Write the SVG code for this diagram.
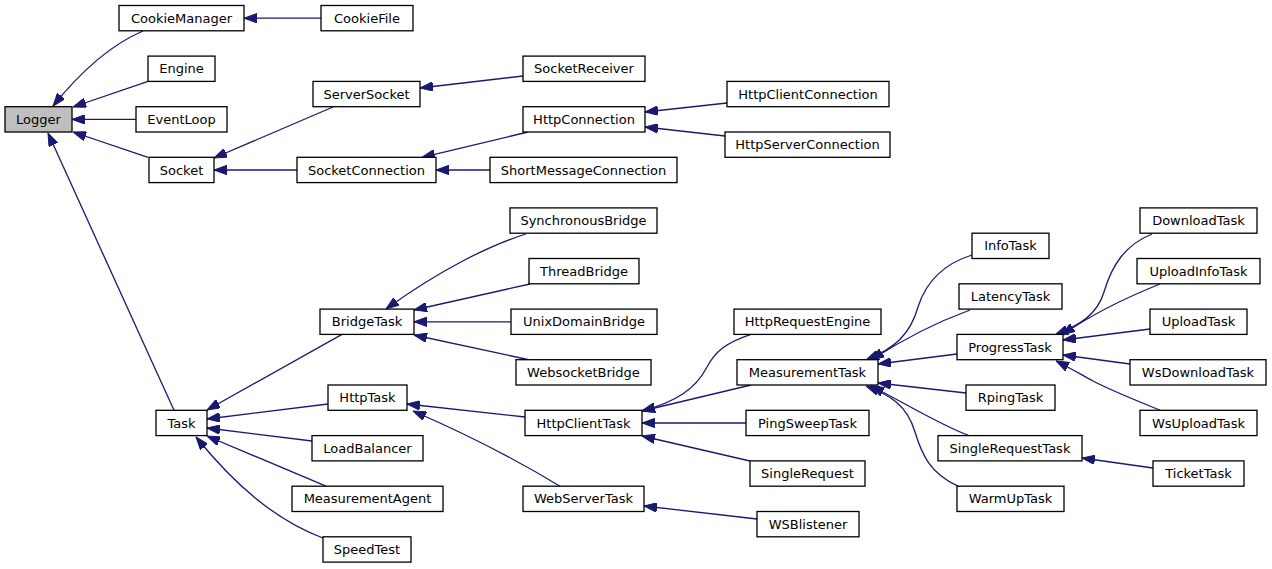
<svg xmlns="http://www.w3.org/2000/svg" width="1272" height="569" viewBox="0 0 1272 569">
<style>
.n rect{fill:#fff;stroke:#000;stroke-width:1.3}
.n.root rect{fill:#bfbfbf}
.n text{font-family:"DejaVu Sans",sans-serif;font-size:13px;fill:#000;text-anchor:middle}
#edges path{fill:none;stroke:#191970;stroke-width:1.3;marker-end:url(#ah)}
</style>
<defs>
<marker id="ah" viewBox="0 0 13 9.5" refX="13" refY="4.75" markerWidth="13" markerHeight="9.5" markerUnits="userSpaceOnUse" orient="auto">
<path d="M0,0 L13,4.75 L0,9.5 z" fill="#191970" stroke="#191970" stroke-width="1"/>
</marker>
</defs>
<rect width="1272" height="569" fill="#fff"/>
<g id="edges">
<path d="M143,31 C110,45 78,75 53,106"/>
<path d="M321,18.2 L244,18.2"/>
<path d="M148,81.4 L73,107"/>
<path d="M136,119.4 L72,119.4"/>
<path d="M148,157.3 L73,132"/>
<path d="M174,410.3 L48,133"/>
<path d="M333,107 L214,158"/>
<path d="M297,170 L214,170"/>
<path d="M523,76 L420,88"/>
<path d="M528,132 L422,157.3"/>
<path d="M490,170 L436,170"/>
<path d="M727,103 L645,112"/>
<path d="M725,136 L645,127"/>
<path d="M342,334.4 L207,410"/>
<path d="M328,404 L207,419"/>
<path d="M312,441 L207,428"/>
<path d="M326,486.2 L207,436"/>
<path d="M323,538 C275,520 235,485 196,437"/>
<path d="M526,234 C490,245 440,270 386,309"/>
<path d="M530,284 L414,310"/>
<path d="M511,321.8 L414,321.8"/>
<path d="M530,360 L414,335"/>
<path d="M525,417 L407,404"/>
<path d="M560,486.2 C530,468 480,440 413,411"/>
<path d="M751,334.4 C725,343 715,352 707,367 C695,390 675,402 642,411"/>
<path d="M751,385 L642,411"/>
<path d="M746,423 L642,423"/>
<path d="M750,461 L642,436"/>
<path d="M757,519 L644,506"/>
<path d="M972,255 C940,265 925,285 918,307 C910,335 895,348 866,360"/>
<path d="M970,310 C940,321 905,338 871,360"/>
<path d="M957,354 L878,364"/>
<path d="M966,393 L878,383"/>
<path d="M970,436 C940,425 905,403 871,386"/>
<path d="M958,486.2 C930,473 922,455 915,432 C907,405 890,395 866,386"/>
<path d="M1152,234 C1125,245 1112,265 1104,292 C1097,315 1080,325 1055,335"/>
<path d="M1160,284 C1130,296 1095,312 1062,335"/>
<path d="M1150,329 L1063,340"/>
<path d="M1130,364 L1063,355"/>
<path d="M1162,411 C1135,400 1110,390 1093,381 C1080,374 1072,369 1056,361"/>
<path d="M1153,468 L1082,458"/>
</g>
<g id="Logger" class="n root"><rect x="5" y="106.7" width="67" height="25.3"/><text x="38.5" y="123.9">Logger</text></g>
<g id="CookieManager" class="n"><rect x="119" y="5.5" width="125" height="25.3"/><text x="181.5" y="22.7">CookieManager</text></g>
<g id="CookieFile" class="n"><rect x="321" y="5.5" width="92" height="25.3"/><text x="367" y="22.7">CookieFile</text></g>
<g id="Engine" class="n"><rect x="148" y="56.1" width="67" height="25.3"/><text x="181.5" y="73.3">Engine</text></g>
<g id="EventLoop" class="n"><rect x="136" y="106.7" width="91" height="25.3"/><text x="181.5" y="123.9">EventLoop</text></g>
<g id="Socket" class="n"><rect x="149" y="157.3" width="65" height="25.3"/><text x="181.5" y="174.5">Socket</text></g>
<g id="ServerSocket" class="n"><rect x="313" y="81.4" width="107" height="25.3"/><text x="366.5" y="98.6">ServerSocket</text></g>
<g id="SocketConnection" class="n"><rect x="297" y="157.3" width="139" height="25.3"/><text x="366.5" y="174.5">SocketConnection</text></g>
<g id="SocketReceiver" class="n"><rect x="523" y="56.1" width="122" height="25.3"/><text x="584" y="73.3">SocketReceiver</text></g>
<g id="HttpConnection" class="n"><rect x="523" y="106.7" width="122" height="25.3"/><text x="584" y="123.9">HttpConnection</text></g>
<g id="HttpClientConnection" class="n"><rect x="727" y="81.4" width="162" height="25.3"/><text x="808" y="98.6">HttpClientConnection</text></g>
<g id="HttpServerConnection" class="n"><rect x="725" y="132" width="165" height="25.3"/><text x="807.5" y="149.2">HttpServerConnection</text></g>
<g id="ShortMessageConnection" class="n"><rect x="490" y="157.3" width="187" height="25.3"/><text x="583.5" y="174.5">ShortMessageConnection</text></g>
<g id="SynchronousBridge" class="n"><rect x="510" y="207.9" width="147" height="25.3"/><text x="583.5" y="225.1">SynchronousBridge</text></g>
<g id="ThreadBridge" class="n"><rect x="529" y="258.5" width="110" height="25.3"/><text x="584" y="275.7">ThreadBridge</text></g>
<g id="BridgeTask" class="n"><rect x="320" y="309.1" width="94" height="25.3"/><text x="367" y="326.3">BridgeTask</text></g>
<g id="UnixDomainBridge" class="n"><rect x="511" y="309.1" width="146" height="25.3"/><text x="584" y="326.3">UnixDomainBridge</text></g>
<g id="WebsocketBridge" class="n"><rect x="516" y="359.7" width="135" height="25.3"/><text x="583.5" y="376.9">WebsocketBridge</text></g>
<g id="HttpTask" class="n"><rect x="328" y="385" width="79" height="25.3"/><text x="367.5" y="402.2">HttpTask</text></g>
<g id="Task" class="n"><rect x="156" y="410.3" width="51" height="25.3"/><text x="181.5" y="427.5">Task</text></g>
<g id="LoadBalancer" class="n"><rect x="312" y="435.6" width="111" height="25.3"/><text x="367.5" y="452.8">LoadBalancer</text></g>
<g id="MeasurementAgent" class="n"><rect x="292" y="486.2" width="151" height="25.3"/><text x="367.5" y="503.4">MeasurementAgent</text></g>
<g id="SpeedTest" class="n"><rect x="323" y="536.8" width="88" height="25.3"/><text x="367" y="554">SpeedTest</text></g>
<g id="HttpRequestEngine" class="n"><rect x="734" y="309.1" width="147" height="25.3"/><text x="807.5" y="326.3">HttpRequestEngine</text></g>
<g id="MeasurementTask" class="n"><rect x="737" y="359.7" width="141" height="25.3"/><text x="807.5" y="376.9">MeasurementTask</text></g>
<g id="HttpClientTask" class="n"><rect x="525" y="410.3" width="117" height="25.3"/><text x="583.5" y="427.5">HttpClientTask</text></g>
<g id="PingSweepTask" class="n"><rect x="746" y="410.3" width="123" height="25.3"/><text x="807.5" y="427.5">PingSweepTask</text></g>
<g id="SingleRequest" class="n"><rect x="750" y="460.9" width="115" height="25.3"/><text x="807.5" y="478.1">SingleRequest</text></g>
<g id="WebServerTask" class="n"><rect x="523" y="486.2" width="121" height="25.3"/><text x="583.5" y="503.4">WebServerTask</text></g>
<g id="WSBlistener" class="n"><rect x="757" y="511.5" width="102" height="25.3"/><text x="808" y="528.7">WSBlistener</text></g>
<g id="DownloadTask" class="n"><rect x="1140" y="207.9" width="117" height="25.3"/><text x="1198.5" y="225.1">DownloadTask</text></g>
<g id="InfoTask" class="n"><rect x="972" y="233.2" width="77" height="25.3"/><text x="1010.5" y="250.4">InfoTask</text></g>
<g id="UploadInfoTask" class="n"><rect x="1137" y="258.5" width="123" height="25.3"/><text x="1198.5" y="275.7">UploadInfoTask</text></g>
<g id="LatencyTask" class="n"><rect x="959" y="283.8" width="103" height="25.3"/><text x="1010.5" y="301">LatencyTask</text></g>
<g id="UploadTask" class="n"><rect x="1150" y="309.1" width="97" height="25.3"/><text x="1198.5" y="326.3">UploadTask</text></g>
<g id="ProgressTask" class="n"><rect x="957" y="334.4" width="106" height="25.3"/><text x="1010" y="351.6">ProgressTask</text></g>
<g id="WsDownloadTask" class="n"><rect x="1130" y="359.7" width="136" height="25.3"/><text x="1198" y="376.9">WsDownloadTask</text></g>
<g id="RpingTask" class="n"><rect x="966" y="385" width="89" height="25.3"/><text x="1010.5" y="402.2">RpingTask</text></g>
<g id="WsUploadTask" class="n"><rect x="1140" y="410.3" width="117" height="25.3"/><text x="1198.5" y="427.5">WsUploadTask</text></g>
<g id="SingleRequestTask" class="n"><rect x="938" y="435.6" width="144" height="25.3"/><text x="1010" y="452.8">SingleRequestTask</text></g>
<g id="TicketTask" class="n"><rect x="1153" y="460.9" width="91" height="25.3"/><text x="1198.5" y="478.1">TicketTask</text></g>
<g id="WarmUpTask" class="n"><rect x="957" y="486.2" width="107" height="25.3"/><text x="1010.5" y="503.4">WarmUpTask</text></g>
</svg>
